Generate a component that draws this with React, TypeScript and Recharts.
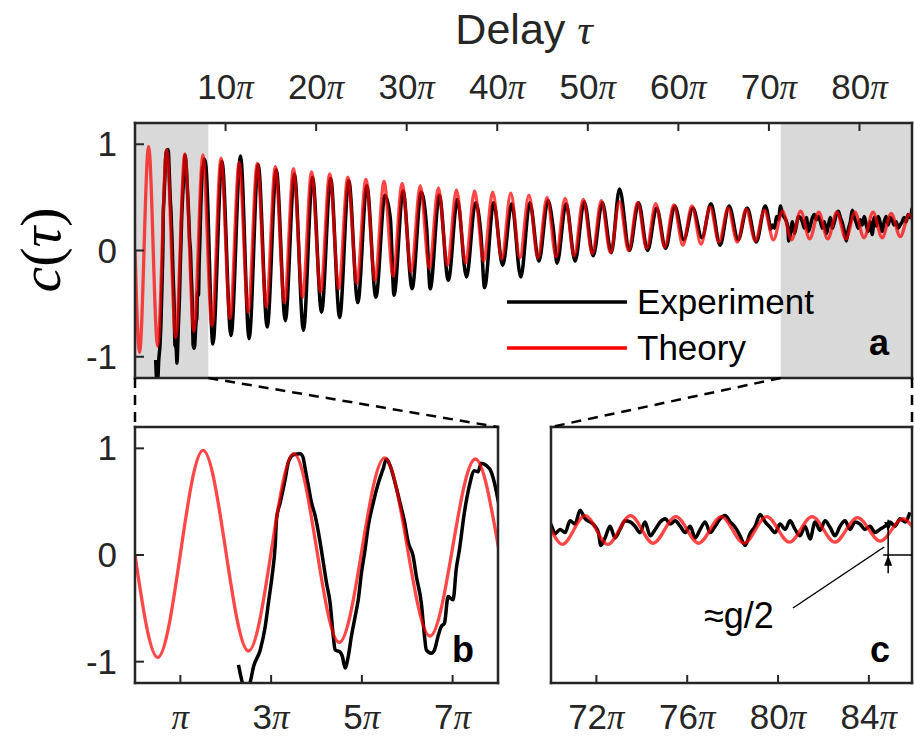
import React from 'react';
import { LineChart, Line, XAxis, YAxis, ReferenceArea, Legend } from 'recharts';

const W = 915;
const H = 743;

// all points are [tau / pi, c(tau)]
const theoryEarly: [number, number][] = [
  [0, 0], [0.5, -0.96], [1.5, 0.98], [2.5, -0.9], [3.5, 0.95], [4.5, -0.82], [5.5, 0.91],
  [6.5, -0.76], [7.5, 0.9], [8.5, -0.71], [9.5, 0.87], [10.5, -0.64], [11.5, 0.83],
  [12.5, -0.58], [13.5, 0.82], [14.5, -0.53], [15.5, 0.79], [16.5, -0.49], [17.5, 0.77],
  [18.5, -0.44], [19.5, 0.74],
];
const theoryMid: [number, number][] = [
  [20.5, -0.39], [21.5, 0.72], [22.5, -0.36], [23.5, 0.69], [24.5, -0.31], [25.5, 0.67],
  [26.5, -0.28], [27.5, 0.65], [28.5, -0.24], [29.5, 0.63], [30.5, -0.2], [31.5, 0.61],
  [32.5, -0.17], [33.5, 0.59], [34.5, -0.14], [35.5, 0.57], [36.5, -0.12], [37.5, 0.56],
  [38.5, -0.1], [39.5, 0.55], [40.5, -0.08], [41.5, 0.54], [42.5, -0.07], [43.5, 0.52],
  [44.5, -0.07], [45.5, 0.5], [46.5, -0.06], [47.5, 0.49], [48.5, -0.05], [49.5, 0.48],
];
const theoryLate: [number, number][] = [
  [50.5, -0.03], [51.5, 0.47], [52.5, -0.02], [53.5, 0.46], [54.5, 0.0], [55.5, 0.45],
  [56.5, 0.02], [57.5, 0.44], [58.5, 0.03], [59.5, 0.43], [60.5, 0.05], [61.5, 0.42],
  [62.5, 0.06], [63.5, 0.41], [64.5, 0.08], [65.5, 0.4], [66.5, 0.08], [67.5, 0.39],
  [68.5, 0.09], [69.5, 0.38], [70.5, 0.1], [71.5, 0.37], [72.5, 0.1], [73.5, 0.37],
  [74.5, 0.11], [75.5, 0.36], [76.5, 0.11], [77.5, 0.36], [78.5, 0.11], [79.5, 0.36],
  [80.5, 0.12], [81.5, 0.36], [82.5, 0.12], [83.5, 0.35], [84.5, 0.13], [85.5, 0.34],
  [86, 0.24],
];

const expEarly: [number, number][] = [
  [2.28, -1.03], [2.45, -1.27], [2.54, -1.19], [2.61, -1.05], [2.76, -0.89], [2.87, -0.67],
  [2.94, -0.45], [3.02, -0.2], [3.09, 0.09], [3.12, 0.34], [3.2, 0.49], [3.31, 0.71],
  [3.38, 0.87], [3.49, 0.94], [3.64, 0.95], [3.7, 0.92], [3.75, 0.81], [3.82, 0.65],
  [3.89, 0.49], [3.97, 0.37], [4.08, 0.12], [4.15, -0.07], [4.22, -0.26], [4.3, -0.45],
  [4.37, -0.76], [4.41, -0.89], [4.52, -0.91], [4.57, -0.95], [4.63, -1.06], [4.7, -0.95],
  [4.77, -0.76], [4.85, -0.58], [4.92, -0.42], [4.99, -0.17], [5.07, 0.05], [5.14, 0.27],
  [5.25, 0.49], [5.36, 0.67], [5.47, 0.81], [5.54, 0.9], [5.62, 0.84], [5.73, 0.68],
  [5.84, 0.49], [5.94, 0.31], [6.02, 0.12], [6.13, -0.01], [6.2, -0.2], [6.31, -0.45],
  [6.38, -0.76], [6.42, -0.89], [6.53, -0.92], [6.6, -0.89], [6.68, -0.76], [6.75, -0.67],
  [6.82, -0.64], [6.9, -0.39], [7.01, -0.42], [7.08, -0.13], [7.15, 0.05], [7.26, 0.4],
  [7.37, 0.65], [7.48, 0.79], [7.56, 0.78], [7.63, 0.86], [7.74, 0.84], [7.85, 0.78],
  [7.92, 0.68], [7.98, 0.56],
];
const expMid: [number, number][] = [
  [8.6, -0.88], [9.6, 0.84], [10.6, -0.8], [11.65, 0.89], [12.6, -0.83], [13.6, 0.81],
  [14.6, -0.72], [15.6, 0.76], [16.6, -0.66], [17.6, 0.72], [18.6, -0.75], [19.6, 0.69],
  [20.6, -0.58], [21.6, 0.68], [22.6, -0.63], [23.6, 0.66], [24.6, -0.49], [25.6, 0.61],
  [26.6, -0.44], [27.6, 0.52], [28.2, 0.3], [28.6, -0.42], [29.6, 0.56], [30.6, -0.36],
  [31.6, 0.55], [32.2, 0.22], [32.6, -0.36], [33.6, 0.52], [34.6, -0.28], [35.6, 0.48],
  [36.6, -0.25], [37.6, 0.45], [38.2, 0.15], [38.6, -0.35], [39.6, 0.45], [40.6, -0.14],
  [41.6, 0.44], [42.6, -0.25], [43.6, 0.45], [44.6, -0.1], [45.6, 0.47], [46.2, 0.2],
  [46.6, -0.12], [47.6, 0.44], [48.6, -0.1], [49.6, 0.46], [50.6, -0.05], [51.6, 0.45],
  [52.6, -0.02], [53.5, 0.58], [54.6, 0.0], [55.6, 0.45], [56.6, 0.0], [57.6, 0.4],
  [58.6, 0.02], [59.6, 0.42], [60.6, 0.1], [61.6, 0.4], [62.6, 0.12], [63.6, 0.44],
  [64.6, 0.05], [65.6, 0.42], [66.6, 0.1], [67.6, 0.4], [68.6, 0.08], [69.6, 0.42],
];
const expLate: [number, number][] = [
  [70.03, 0.27], [70.18, 0.2], [70.4, 0.24], [70.62, 0.21], [70.84, 0.32], [71.06, 0.29],
  [71.28, 0.42], [71.5, 0.34], [71.72, 0.31], [71.94, 0.27], [72.09, 0.21], [72.19, 0.09],
  [72.38, 0.16], [72.6, 0.27], [72.82, 0.16], [73.04, 0.24], [73.26, 0.32], [73.48, 0.31],
  [73.7, 0.27], [73.92, 0.21], [74.14, 0.31], [74.37, 0.18], [74.59, 0.24], [74.81, 0.31],
  [75.03, 0.34], [75.25, 0.29], [75.47, 0.32], [75.69, 0.27], [75.91, 0.21], [76.13, 0.27],
  [76.35, 0.16], [76.57, 0.24], [76.79, 0.31], [77.01, 0.21], [77.23, 0.27], [77.45, 0.34],
  [77.67, 0.37], [77.89, 0.31], [78.11, 0.26], [78.33, 0.18], [78.55, 0.09], [78.77, 0.2],
  [78.99, 0.27], [79.21, 0.38], [79.43, 0.31], [79.65, 0.26], [79.87, 0.21], [80.09, 0.29],
  [80.31, 0.24], [80.53, 0.32], [80.75, 0.24], [80.97, 0.18], [81.19, 0.27], [81.41, 0.15],
  [81.63, 0.31], [81.85, 0.23], [82.07, 0.32], [82.29, 0.26], [82.51, 0.18], [82.73, 0.27],
  [82.95, 0.32], [83.17, 0.24], [83.39, 0.31], [83.61, 0.29], [83.83, 0.24], [84.05, 0.27],
  [84.27, 0.21], [84.49, 0.24], [84.71, 0.27], [84.93, 0.31], [85.15, 0.27], [85.37, 0.34],
  [85.59, 0.31], [85.81, 0.4],
];

const topTicks = [10, 20, 30, 40, 50, 60, 70, 80];
const leftZoomTicks = [1, 3, 5, 7];
const rightZoomTicks = [72, 76, 80, 84];
const yTicks = [-1, 0, 1];
const yDomain: [number, number] = [-1.2, 1.2];
const topDomain: [number, number] = [0, 85.8];
const leftZoomDomain: [number, number] = [0, 8];
const rightZoomDomain: [number, number] = [70, 85.9];
const leftShade: [number, number] = [0, 8.1];
const rightShade: [number, number] = [71.3, 85.8];

const theory = [...theoryEarly, ...theoryMid, ...theoryLate].map(([t, c]) => ({ t, c }));
const experiment = [...expEarly, ...expMid, ...expLate].map(([t, c]) => ({ t, c }));

const AXIS = '#262626';
const SANS = '"Liberation Sans", Arial, Helvetica, sans-serif';
const SERIF = '"Liberation Serif", "DejaVu Serif", serif';

type Rect = { left: number; right: number; top: number; bottom: number };
const topRect: Rect = { left: 135, right: 912, top: 123, bottom: 378 };
const bRect: Rect = { left: 135, right: 498, top: 427, bottom: 683 };
const cRect: Rect = { left: 551, right: 912, top: 427, bottom: 683 };

const sx = (r: Rect, d: [number, number]) => (t: number) =>
  r.left + ((t - d[0]) / (d[1] - d[0])) * (r.right - r.left);
const sy = (r: Rect) => (v: number) =>
  r.bottom - ((v - yDomain[0]) / (yDomain[1] - yDomain[0])) * (r.bottom - r.top);

const PiTick = (props: any) => {
  const { x, y, payload } = props;
  return (
    <text x={x} y={y} textAnchor="middle" fontSize={35} fill={AXIS} fontFamily={SANS}>
      {payload.value === 1 ? '' : payload.value}
      <tspan fontFamily={SERIF} fontStyle="italic">π</tspan>
    </text>
  );
};

const ValueTick = (props: any) => {
  const { x, y, payload } = props;
  return (
    <text x={x} y={y} dy={12} textAnchor="end" fontSize={35} fill={AXIS} fontFamily={SANS}>
      {payload.value}
    </text>
  );
};

const LegendBox = (props: any) => {
  const items = (props.payload || []) as any[];
  return (
    <div style={{ fontFamily: SANS, fontSize: 35, color: '#000' }}>
      {items.map((it) => (
        <div key={it.value} style={{ display: 'flex', alignItems: 'center', height: 46 }}>
          <svg width={120} height={6} style={{ marginRight: 10 }}>
            <line x1={0} x2={120} y1={3} y2={3} stroke={it.color} strokeWidth={3.5} />
          </svg>
          <span style={{ lineHeight: '46px' }}>{it.value}</span>
        </div>
      ))}
    </div>
  );
};

type PanelProps = {
  rect: Rect;
  domain: [number, number];
  ticks: number[];
  labelSide: 'top' | 'bottom';
  yLabels: boolean;
  shades?: [number, number][];
  legend?: boolean;
};

const Panel = ({ rect, domain, ticks, labelSide, yLabels, shades = [], legend }: PanelProps) => {
  const margin = {
    left: rect.left - 1,
    right: W - rect.right - 1,
    top: rect.top - 1,
    bottom: H - rect.bottom - 1,
  };
  const axisLine = { stroke: AXIS, strokeWidth: 2.5, strokeLinecap: 'square' as const };
  const tickLine = { stroke: AXIS, strokeWidth: 2 };
  return (
    <div style={{ position: 'absolute', left: 0, top: 0 }}>
      <LineChart width={W} height={H} margin={margin}>
        {shades.map(([a, b]) => (
          <ReferenceArea
            key={a}
            xAxisId="main"
            yAxisId="main"
            x1={a}
            x2={b}
            y1={yDomain[0]}
            y2={yDomain[1]}
            fill="#d9d9d9"
            fillOpacity={1}
            stroke="none"
            ifOverflow="hidden"
          />
        ))}
        <XAxis
          xAxisId="main"
          type="number"
          dataKey="t"
          orientation={labelSide}
          domain={domain}
          allowDataOverflow
          ticks={ticks}
          height={1}
          tickSize={-8}
          tickMargin={labelSide === 'top' ? 32 : 54}
          tick={<PiTick />}
          axisLine={axisLine}
          tickLine={tickLine}
        />
        <XAxis
          xAxisId="mirror"
          type="number"
          dataKey="t"
          orientation={labelSide === 'top' ? 'bottom' : 'top'}
          domain={domain}
          allowDataOverflow
          ticks={ticks}
          height={1}
          tickSize={-8}
          tick={false}
          axisLine={axisLine}
          tickLine={tickLine}
        />
        <YAxis
          yAxisId="main"
          type="number"
          orientation="left"
          domain={yDomain}
          allowDataOverflow
          ticks={yTicks}
          width={1}
          tickSize={-9}
          tickMargin={27}
          tick={yLabels ? <ValueTick /> : false}
          axisLine={axisLine}
          tickLine={tickLine}
        />
        <YAxis
          yAxisId="mirror"
          type="number"
          orientation="right"
          domain={yDomain}
          allowDataOverflow
          ticks={yTicks}
          width={1}
          tickSize={-9}
          tick={false}
          axisLine={axisLine}
          tickLine={tickLine}
        />
        <Line
          xAxisId="main"
          yAxisId="main"
          data={experiment}
          dataKey="c"
          name="Experiment"
          type="monotone"
          stroke="#000000"
          strokeWidth={3.5}
          dot={false}
          isAnimationActive={false}
        />
        <Line
          xAxisId="main"
          yAxisId="main"
          data={theory}
          dataKey="c"
          name="Theory"
          type="monotone"
          stroke="#ff0000"
          strokeOpacity={0.72}
          strokeWidth={3.3}
          dot={false}
          isAnimationActive={false}
        />
        {legend && (
          <Legend
            layout="horizontal"
            verticalAlign="middle"
            align="center"
            content={<LegendBox />}
            wrapperStyle={{ position: 'absolute', left: 507, top: 279, width: 330 }}
          />
        )}
      </LineChart>
    </div>
  );
};

export default function App() {
  const xt = sx(topRect, topDomain);
  const xc = sx(cRect, rightZoomDomain);
  const yc = sy(cRect);
  const dash = { stroke: '#000', strokeWidth: 2.5, strokeDasharray: '10 7' };
  const arrowX = xc(84.85);
  return (
    <div style={{ position: 'absolute', left: 0, top: 0, width: W, height: H, background: '#fff' }}>
      <Panel
        rect={topRect}
        domain={topDomain}
        ticks={topTicks}
        labelSide="top"
        yLabels
        shades={[leftShade, rightShade]}
        legend
      />
      <Panel rect={bRect} domain={leftZoomDomain} ticks={leftZoomTicks} labelSide="bottom" yLabels />
      <Panel rect={cRect} domain={rightZoomDomain} ticks={rightZoomTicks} labelSide="bottom" yLabels={false} />
      <svg width={W} height={H} style={{ position: 'absolute', left: 0, top: 0, pointerEvents: 'none' }}>
        <text x={524} y={44} textAnchor="middle" fontSize={43} fill={AXIS} fontFamily={SANS}>
          Delay <tspan fontFamily={SERIF} fontStyle="italic">τ</tspan>
        </text>
        <text
          x={60}
          y={250}
          transform="rotate(-90 60 250)"
          textAnchor="middle"
          fontSize={58}
          fill="#000"
          fontFamily={SERIF}
        >
          <tspan fontStyle="italic">c</tspan>(<tspan fontStyle="italic">τ</tspan>)
        </text>
        <line x1={topRect.left} y1={topRect.bottom} x2={bRect.left} y2={bRect.top} {...dash} />
        <line x1={xt(leftShade[1])} y1={topRect.bottom} x2={bRect.right} y2={bRect.top} {...dash} />
        <line x1={xt(rightShade[0])} y1={topRect.bottom} x2={cRect.left} y2={cRect.top} {...dash} />
        <line x1={topRect.right} y1={topRect.bottom} x2={cRect.right} y2={cRect.top} {...dash} />
        <g fontFamily={SANS} fontWeight="bold" fontSize={36} fill="#000" textAnchor="middle">
          <text x={879} y={355}>a</text>
          <text x={463} y={662}>b</text>
          <text x={880} y={662}>c</text>
        </g>
        <g stroke="#000" strokeWidth={1.5}>
          <line x1={arrowX - 5} y1={yc(0)} x2={cRect.right} y2={yc(0)} />
          <line x1={arrowX} y1={yc(0.33)} x2={arrowX} y2={yc(-0.17)} />
          <line x1={793} y1={608} x2={arrowX - 4} y2={547} />
        </g>
        <polygon
          points={`${arrowX - 4},${yc(0.31)} ${arrowX + 4},${yc(0.31)} ${arrowX},${yc(0.22)}`}
          fill="#000"
        />
        <polygon
          points={`${arrowX - 4},${yc(-0.1)} ${arrowX + 4},${yc(-0.1)} ${arrowX},${yc(0)}`}
          fill="#000"
        />
        <text x={704} y={628} fontSize={36} fill="#000" fontFamily={SANS}>
          ≈g/2
        </text>
      </svg>
    </div>
  );
}
